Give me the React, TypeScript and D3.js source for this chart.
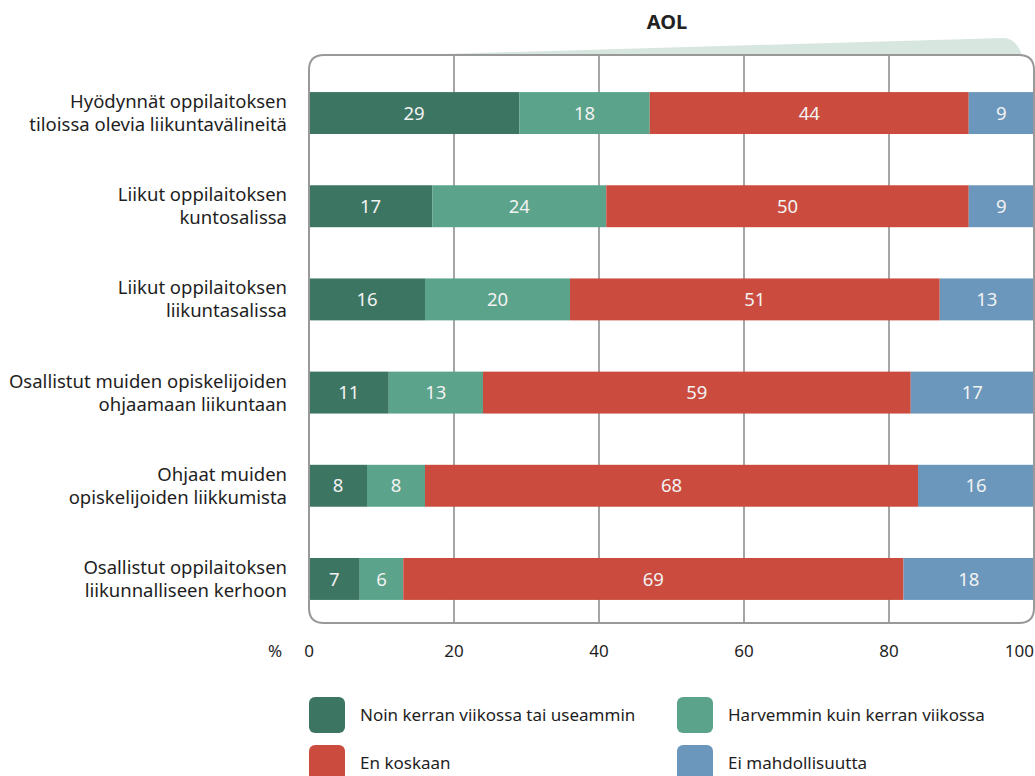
import React from "react";
import * as d3 from "d3";

const categories: string[][] = [
  ["Hyödynnät oppilaitoksen", "tiloissa olevia liikuntavälineitä"],
  ["Liikut oppilaitoksen", "kuntosalissa"],
  ["Liikut oppilaitoksen", "liikuntasalissa"],
  ["Osallistut muiden opiskelijoiden", "ohjaamaan liikuntaan"],
  ["Ohjaat muiden", "opiskelijoiden liikkumista"],
  ["Osallistut oppilaitoksen", "liikunnalliseen kerhoon"],
];
const seriesNames = [
  "Noin kerran viikossa tai useammin",
  "Harvemmin kuin kerran viikossa",
  "En koskaan",
  "Ei mahdollisuutta",
];
const weekly = [29, 17, 16, 11, 8, 7];
const lessOften = [18, 24, 20, 13, 8, 6];
const never = [44, 50, 51, 59, 68, 69];
const noChance = [9, 9, 13, 17, 16, 18];
const ticks = [0, 20, 40, 60, 80, 100];
const colors = ["#3d7563", "#5ba38a", "#cb4c3f", "#6a97bb"];

const FONT = "'Noto Sans', sans-serif";

export default function App() {
  const W = 1035, H = 776;
  const left = 309, right = 1034;
  const top = 55, bottom = 623;
  const x = d3.scaleLinear().domain([0, 100]).range([left, right]);
  const y = d3.scaleBand().domain(categories.map((_, i) => String(i))).range([66, 626]).paddingInner(0.55).paddingOuter(0.28);
  const series = [weekly, lessOften, never, noChance];
  const rows = categories.map((_, i) => {
    const o: any = { i };
    series.forEach((s, k) => (o["s" + k] = s[i]));
    return o;
  });
  const stacked = d3.stack<any>().keys(["s0", "s1", "s2", "s3"])(rows);
  const r = 15;
  const framePath = `M${left},${bottom - r} L${left},${top + r} Q${left},${top} ${left + r},${top} L${right - r},${top} Q${right},${top} ${right},${top + r} L${right},${bottom - r} Q${right},${bottom} ${right - r},${bottom} L${left + r},${bottom} Q${left},${bottom} ${left},${bottom - r} Z`;
  const tabPath = `M${left + 100},${top} L1003,38 Q1016,38 1022,${top} Z`;
  const legendItems = [
    { x: 309, y: 697, k: 0 },
    { x: 677, y: 697, k: 1 },
    { x: 309, y: 745, k: 2 },
    { x: 677, y: 745, k: 3 },
  ];
  return (
    <svg width={W} height={H} style={{ position: "absolute", left: 0, top: 0 }} fontFamily={FONT}>
      <rect width={W} height={H} fill="#fff" />
      <text x={667} y={29} textAnchor="middle" fontWeight="bold" fontSize={20} fill="#222">AOL</text>
      <path d={tabPath} fill="#d8e6e0" />
      <path d={framePath} fill="#fff" />
      {ticks.slice(1, -1).map((t) => (
        <line key={t} x1={x(t)} x2={x(t)} y1={top} y2={bottom} stroke="#888" strokeWidth={1.5} />
      ))}
      {stacked.map((layer, k) => (
        <g key={k}>
          {layer.map((d, i) => (
            <g key={i}>
              <rect x={x(d[0])} y={y(String(i))} width={x(d[1]) - x(d[0])} height={y.bandwidth()} fill={colors[k]} />
              <text x={(x(d[0]) + x(d[1])) / 2} y={y(String(i))! + y.bandwidth() / 2} dy="0.36em" textAnchor="middle" fontSize={18.5} fill="#f2f2f2">{series[k][i]}</text>
            </g>
          ))}
        </g>
      ))}
      <path d={framePath} fill="none" stroke="#999" strokeWidth={2} />
      {categories.map((lines, i) => {
        const cy = y(String(i))! + y.bandwidth() / 2;
        return (
          <text key={i} x={287} textAnchor="end" fontSize={18.5} fill="#1e1e1e">
            {lines.map((l, j) => (
              <tspan key={j} x={287} y={cy - 11.5 + j * 23 + 6.5}>{l}</tspan>
            ))}
          </text>
        );
      })}
      <text x={275} y={657} textAnchor="middle" fontSize={17} fill="#1e1e1e">%</text>
      {ticks.map((t) => (
        <text key={t} x={t === 100 ? 1034 : x(t)} y={657} textAnchor={t === 100 ? "end" : "middle"} fontSize={17} fill="#1e1e1e">{t}</text>
      ))}
      {legendItems.map((it) => (
        <g key={it.k}>
          <rect x={it.x} y={it.y} width={36} height={36} rx={6} fill={colors[it.k]} />
          <text x={it.x + 51} y={it.y + 18} dy="0.36em" fontSize={17} fill="#1e1e1e">{seriesNames[it.k]}</text>
        </g>
      ))}
    </svg>
  );
}
